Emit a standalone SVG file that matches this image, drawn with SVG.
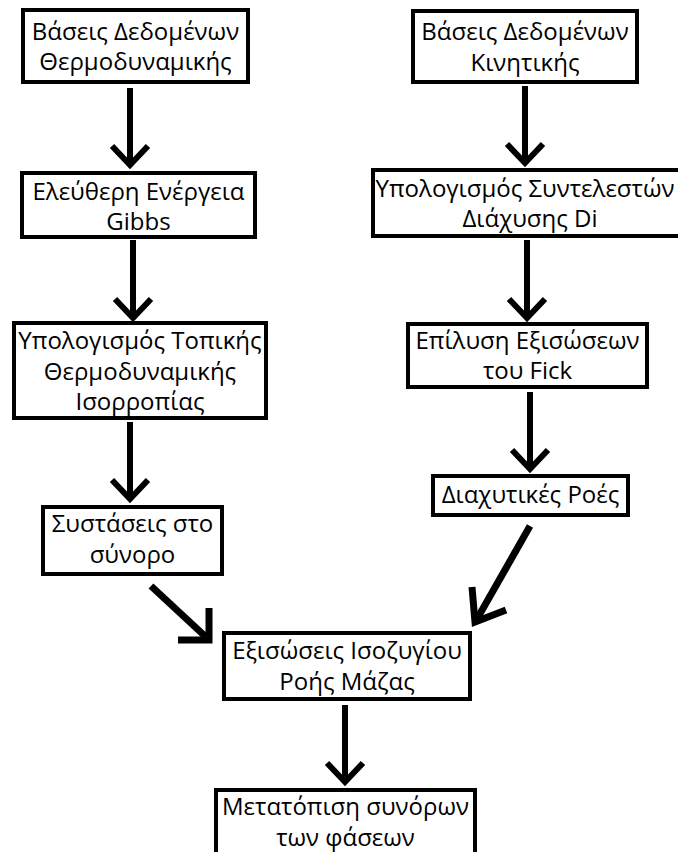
<svg xmlns="http://www.w3.org/2000/svg" width="678" height="852" viewBox="0 0 678 852">
<style>
.box{fill:#fff;stroke:#000;stroke-width:4}
.t{font-family:"Open Sans","Noto Sans","DejaVu Sans",sans-serif;font-size:24px;fill:#000;text-anchor:middle}
.c{stroke:#000;stroke-width:6;fill:none;stroke-linecap:butt}
.h{stroke:#000;stroke-width:6;fill:none;stroke-linejoin:miter;stroke-linecap:butt}
.cd{stroke:#000;stroke-width:7;fill:none}
</style>
<rect width="678" height="852" fill="#fff"/>
<g id="connectors">
  <line class="c" x1="130" y1="88" x2="130" y2="165"/>
  <polyline class="h" points="112,146 130,165 148,146"/>
  <line class="c" x1="133" y1="240" x2="133" y2="318"/>
  <polyline class="h" points="115,299 133,318 151,299"/>
  <line class="c" x1="130" y1="422" x2="130" y2="499"/>
  <polyline class="h" points="112,480 130,499 148,480"/>
  <line class="cd" x1="151" y1="586" x2="207" y2="638"/>
  <polyline class="cd" points="209,608 209,640 178,640"/>
  <line class="c" x1="525" y1="86" x2="525" y2="163"/>
  <polyline class="h" points="507,144 525,163 543,144"/>
  <line class="c" x1="527" y1="240" x2="527" y2="318"/>
  <polyline class="h" points="509,299 527,318 545,299"/>
  <line class="c" x1="530" y1="392" x2="530" y2="469"/>
  <polyline class="h" points="512,450 530,469 548,450"/>
  <line class="cd" x1="530" y1="526" x2="477" y2="619"/>
  <polyline class="cd" points="472,587 475,622 506,610"/>
  <line class="c" x1="345" y1="705" x2="345" y2="782"/>
  <polyline class="h" points="327,763 345,782 363,763"/>
</g>
<g id="n1">
  <rect class="box" x="23" y="10" width="225" height="72"/>
  <text class="t" x="135.5" y="40">Βάσεις Δεδομένων</text>
  <text class="t" x="135.5" y="70">Θερμοδυναμικής</text>
</g>
<g id="n2">
  <rect class="box" x="22" y="173" width="233" height="64"/>
  <text class="t" x="138.5" y="200">Ελεύθερη Ενέργεια</text>
  <text class="t" x="138.5" y="230">Gibbs</text>
</g>
<g id="n3">
  <rect class="box" x="14" y="323" width="252" height="95"/>
  <text class="t" x="140" y="349">Υπολογισμός Τοπικής</text>
  <text class="t" x="140" y="380">Θερμοδυναμικής</text>
  <text class="t" x="140" y="410">Ισορροπίας</text>
</g>
<g id="n4">
  <rect class="box" x="43" y="507" width="179" height="67"/>
  <text class="t" x="132.5" y="532">Συστάσεις στο</text>
  <text class="t" x="132.5" y="563">σύνορο</text>
</g>
<g id="n5">
  <rect class="box" x="413" y="11" width="224" height="71"/>
  <text class="t" x="525" y="40">Βάσεις Δεδομένων</text>
  <text class="t" x="525" y="71">Κινητικής</text>
</g>
<g id="n6">
  <rect class="box" x="373" y="170" width="310" height="66"/>
  <text class="t" x="525" y="197">Υπολογισμός Συντελεστών</text>
  <text class="t" x="530" y="227">Διάχυσης Di</text>
</g>
<g id="n7">
  <rect class="box" x="408" y="324" width="239" height="63"/>
  <text class="t" x="527.5" y="349">Επίλυση Εξισώσεων</text>
  <text class="t" x="527.5" y="379">του Fick</text>
</g>
<g id="n8">
  <rect class="box" x="433" y="476" width="195" height="39"/>
  <text class="t" x="530.5" y="503">Διαχυτικές Ροές</text>
</g>
<g id="n9">
  <rect class="box" x="224" y="633" width="246" height="66"/>
  <text class="t" x="347" y="659">Εξισώσεις Ισοζυγίου</text>
  <text class="t" x="347" y="690">Ροής Μάζας</text>
</g>
<g id="n10">
  <rect class="box" x="216" y="790" width="259" height="70"/>
  <text class="t" x="345.5" y="815">Μετατόπιση συνόρων</text>
  <text class="t" x="345.5" y="846">των φάσεων</text>
</g>
</svg>
